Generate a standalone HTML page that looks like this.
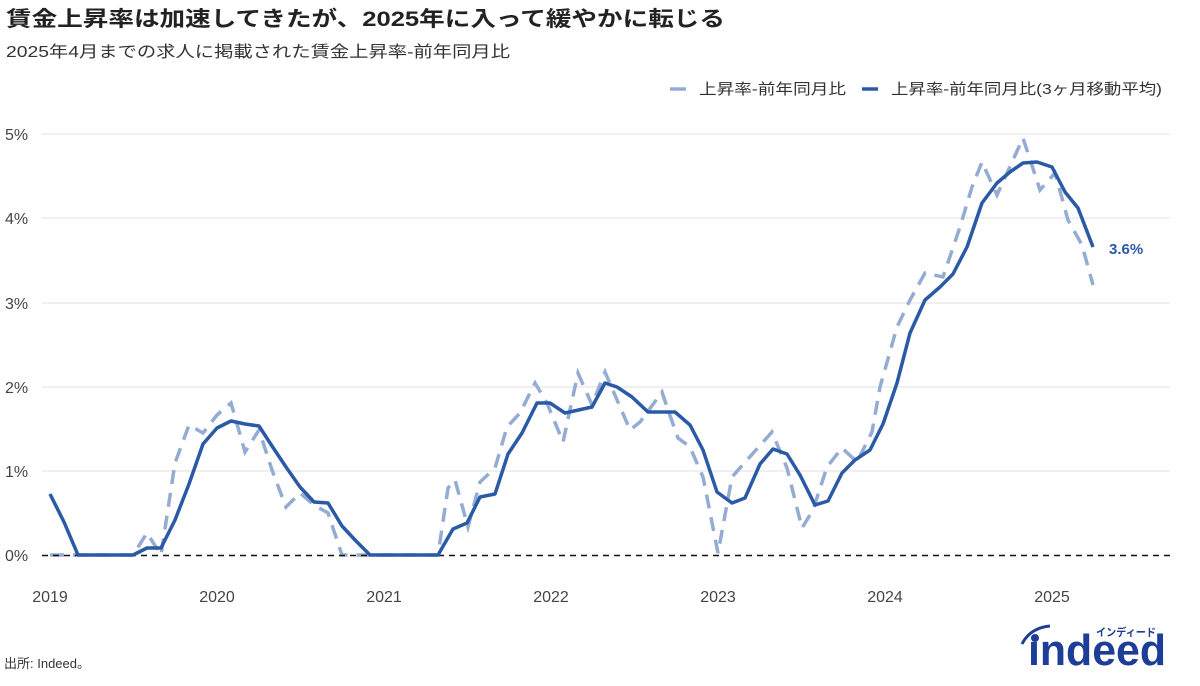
<!DOCTYPE html>
<html><head><meta charset="utf-8"><style>
body{margin:0;background:#fff;width:1200px;height:686px;overflow:hidden;font-family:"Liberation Sans","Noto Sans CJK JP",sans-serif;}
</style></head><body>
<svg width="1200" height="686" xmlns="http://www.w3.org/2000/svg" style="position:absolute;left:0;top:0">
<g font-family="Liberation Sans, Noto Sans CJK JP, sans-serif">
<text x="6" y="26" font-size="21" font-weight="bold" fill="#222" textLength="719" lengthAdjust="spacingAndGlyphs">賃金上昇率は加速してきたが、2025年に入って緩やかに転じる</text>
<text x="6" y="57" font-size="16" fill="#333" textLength="504" lengthAdjust="spacingAndGlyphs">2025年4月までの求人に掲載された賃金上昇率-前年同月比</text>
<line x1="670" y1="89" x2="686" y2="89" stroke="#94acd3" stroke-width="3.5"/>
<text x="699" y="94" font-size="15" fill="#333" textLength="147" lengthAdjust="spacingAndGlyphs">上昇率-前年同月比</text>
<line x1="862" y1="89" x2="878" y2="89" stroke="#2a5aa6" stroke-width="3.5"/>
<text x="891" y="94" font-size="15" fill="#333" textLength="271" lengthAdjust="spacingAndGlyphs">上昇率-前年同月比(3ヶ月移動平均)</text>
<g stroke="#e2e2e2" stroke-width="1">
<line x1="42" y1="134" x2="1170" y2="134"/><line x1="42" y1="218" x2="1170" y2="218"/><line x1="42" y1="303" x2="1170" y2="303"/><line x1="42" y1="387" x2="1170" y2="387"/><line x1="42" y1="471" x2="1170" y2="471"/>
</g>
<g font-size="16" fill="#444">
<text x="5" y="140">5%</text><text x="5" y="224">4%</text><text x="5" y="309">3%</text><text x="5" y="393">2%</text><text x="5" y="477">1%</text><text x="5" y="561">0%</text>
</g>
<g font-size="16" fill="#444" text-anchor="middle">
<text x="50" y="602">2019</text><text x="217" y="602">2020</text><text x="384" y="602">2021</text><text x="551" y="602">2022</text><text x="718" y="602">2023</text><text x="885" y="602">2024</text><text x="1052" y="602">2025</text>
</g>
<polyline fill="none" stroke="#94acd3" stroke-width="3.5" stroke-dasharray="14,9" points="50,555 133,555 147,533 161,555 175,463 189,425 203,433 217,415 231,403 245,452 259,430 272,470 286,507 300,493 314,505 328,513 342,555 438,555 448,488 455,480 468,527 480,482 495,468 507,427 520,413 535,383 547,403 563,442 578,373 592,405 605,372 630,430 640,422 662,392 668,410 678,438 690,447 703,477 718,553 732,477 747,460 772,432 787,468 802,528 813,510 827,467 842,448 857,462 872,432 880,387 897,327 910,300 925,273 943,277 960,227 972,187 982,162 997,195 1023,138 1040,190 1055,173 1068,220 1082,245 1093,285"/>
<line x1="42" y1="555.5" x2="1172" y2="555.5" stroke="#111" stroke-width="1.5" stroke-dasharray="6,5"/>
<polyline fill="none" stroke="#2a5aa6" stroke-width="3.5" stroke-linejoin="round" points="50,494 64,522 78,555 133,555 147,548 161,548 175,520 189,484 203,444 217,428 231,421 245,424 259,426 272,446 286,467 300,487 314,502 328,503 342,526 356,541 370,555 438,555 453,529 467,523 480,497 495,494 508,454 522,433 537,403 550,403 565,413 592,407 605,383 617,387 632,397 648,412 675,412 690,425 703,450 717,492 732,503 745,498 760,464 773,449 787,454 800,475 815,505 828,501 842,473 855,460 870,450 883,424 897,383 910,333 925,300 940,287 953,274 967,247 982,203 997,183 1010,172 1023,163 1037,162 1052,167 1065,192 1078,208 1093,247"/>
<text x="1109" y="254" font-size="15" font-weight="bold" fill="#2a5aa6">3.6%</text>
<text x="4" y="668" font-size="13" fill="#333">出所: Indeed。</text>
<text x="1096" y="636" font-size="11" font-weight="bold" fill="#1d3d96" textLength="60" lengthAdjust="spacingAndGlyphs">インディード</text>
<text x="1028" y="665" font-size="44" font-weight="bold" fill="#1d3d96" textLength="138" lengthAdjust="spacingAndGlyphs">ındeed</text>
<circle cx="1035" cy="638" r="4" fill="#1d3d96"/>
<path d="M1022,644 Q1030,628 1050,626" fill="none" stroke="#1d3d96" stroke-width="3"/>
</g>
</svg>
</body></html>
